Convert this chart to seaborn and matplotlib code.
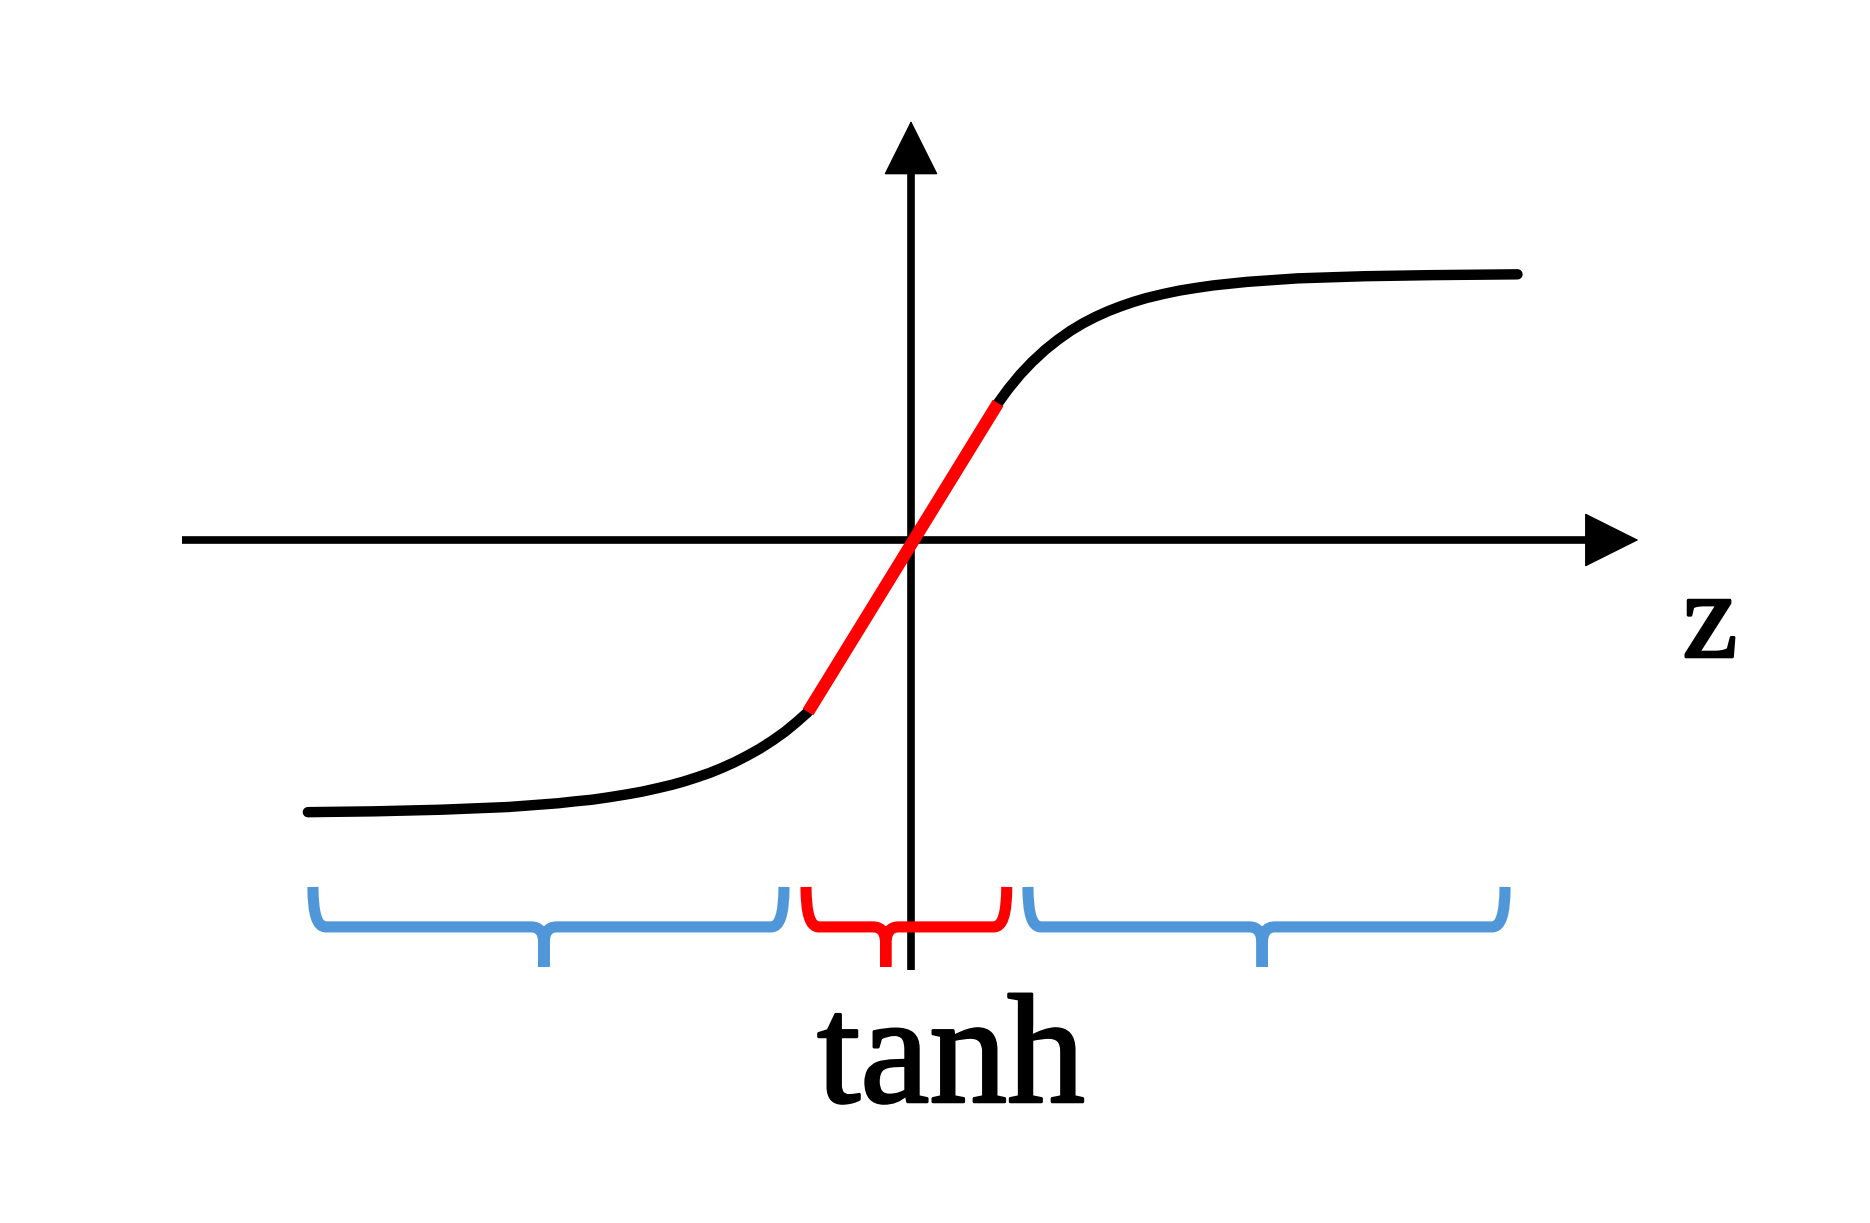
import matplotlib
matplotlib.use("Agg")
import matplotlib.pyplot as plt
import matplotlib.patheffects as pe
from matplotlib.path import Path
from matplotlib.patches import PathPatch
import seaborn as sns

# tanh curve, points (z, tanh z)
curve_z = [-3.59, -3.2, -2.8, -2.4, -2.25, -2.1, -2.0, -1.9, -1.8, -1.7,
           -1.6, -1.5, -1.425, -1.35, -1.275, -1.2, -1.125, -1.05, -0.975,
           -0.9, -0.825, -0.75, -0.68, -0.613,
           0.518, 0.58, 0.65, 0.72, 0.8, 0.875, 0.95, 1.025, 1.1, 1.175,
           1.25, 1.325, 1.4, 1.5, 1.6, 1.7, 1.8, 2.0, 2.3, 2.7, 3.1, 3.61]
curve_y = [-1.008, -1.005, -0.999, -0.989, -0.982, -0.975, -0.968, -0.962,
           -0.953, -0.943, -0.932, -0.918, -0.907, -0.894, -0.879, -0.863,
           -0.844, -0.823, -0.799, -0.773, -0.743, -0.710, -0.674, -0.637,
           0.507, 0.560, 0.613, 0.659, 0.705, 0.742, 0.775, 0.803, 0.827,
           0.848, 0.866, 0.882, 0.896, 0.911, 0.924, 0.934, 0.943, 0.956,
           0.969, 0.977, 0.981, 0.984]

# linear (red) part
linear_z = [-0.613, 0.518]
linear_y = [-0.637, 0.507]

# braces: start, end, tip, colour
brace_start = [-3.56, -0.625, 0.696]
brace_end = [-0.756, 0.57, 3.536]
brace_tip = [-2.185, -0.15, 2.09]
brace_colors = ["#4f97d9", "#ff0000", "#4f97d9"]

# axis extents
x_axis = [-4.34, 4.33]
y_axis = [-1.593, 1.552]

sns.set_style("white")

fig = plt.figure(figsize=(18.7, 12.23), dpi=100)
ax = fig.add_axes([0, 0, 1, 1])
ax.set_xlim(-911 / 168, (1870 - 911) / 168)
ax.set_ylim(-(1223 - 540) / 270, 540 / 270)
ax.axis("off")

# axes with arrow heads
head_x, head_y = 0.2, 0.12
ax.plot([x_axis[0], x_axis[1] - head_x], [0, 0], color="black", lw=5.5,
        solid_capstyle="butt", zorder=1)
ax.plot([0, 0], [y_axis[0], y_axis[1] - head_y], color="black", lw=5.5,
        solid_capstyle="butt", zorder=1)
arrow_kw = dict(arrowstyle="-|>,head_length=0.4,head_width=0.2", mutation_scale=92,
                lw=1, color="black", shrinkA=0, shrinkB=0)
ax.annotate("", xy=(x_axis[1], 0), xytext=(x_axis[1] - 0.5, 0), arrowprops=arrow_kw)
ax.annotate("", xy=(0, y_axis[1]), xytext=(0, y_axis[1] - 0.5), arrowprops=arrow_kw)

sns.lineplot(x=curve_z, y=curve_y, sort=False, estimator=None, color="black",
             linewidth=7.5, ax=ax, solid_capstyle="round",
             solid_joinstyle="round", zorder=3)
sns.lineplot(x=linear_z, y=linear_y, sort=False, estimator=None, color="#ff0000",
             linewidth=9, ax=ax, solid_capstyle="butt", zorder=4)

# brace geometry (in axis units)
y_top, y_line, y_bot = -1.285, -1.433, -1.581
r_end, r_mid, d_mid = 0.075, 0.075, 0.065
for x0, x1, xm, c in zip(brace_start, brace_end, brace_tip, brace_colors):
    verts = [(x0, y_top), (x0, y_line), (x0 + r_end, y_line),
             (xm - r_mid, y_line), (xm, y_line), (xm, y_line - d_mid),
             (xm, y_bot), (xm, y_line - d_mid),
             (xm, y_line), (xm + r_mid, y_line),
             (x1 - r_end, y_line), (x1, y_line), (x1, y_top)]
    codes = [Path.MOVETO, Path.CURVE3, Path.CURVE3,
             Path.LINETO, Path.CURVE3, Path.CURVE3,
             Path.LINETO, Path.LINETO,
             Path.CURVE3, Path.CURVE3,
             Path.LINETO, Path.CURVE3, Path.CURVE3]
    ax.add_patch(PathPatch(Path(verts, codes), fill=False, edgecolor=c, lw=8,
                           capstyle="butt", joinstyle="bevel", zorder=2))

heavy = [pe.withStroke(linewidth=2.0, foreground="black", joinstyle="round")]
ax.text(0.238, -2.081, "tanh", ha="center", va="baseline", fontsize=112,
        family="Liberation Serif", color="black", path_effects=heavy)
ax.text(4.756, -0.433, "z", ha="center", va="baseline", fontsize=89,
        family="Liberation Serif", color="black", path_effects=heavy)

fig.savefig("out.png", dpi=100)
plt.close(fig)
